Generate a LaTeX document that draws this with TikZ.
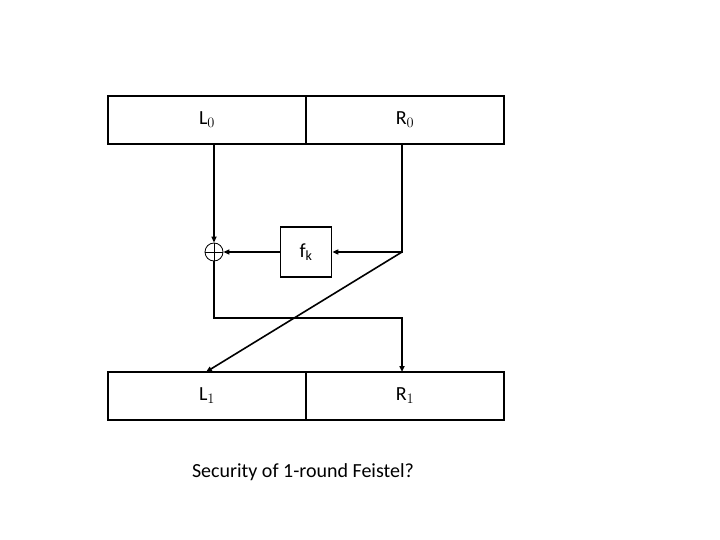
\documentclass[tikz,border=0pt]{standalone}
\usepackage{fontspec}
\setmainfont{Carlito}
\usetikzlibrary{arrows.meta}
\begin{document}
\begin{tikzpicture}[x=1pt,y=-1pt,line width=1.6pt,
  box/.style={draw,minimum width=198pt,minimum height=48pt,inner sep=0,font=\fontsize{20}{24}\selectfont},
  arr/.style={-{Triangle[length=6pt,width=5pt]}}]
\useasboundingbox (0,0) rectangle (720,540);
\node[box] (L0) at (207,120) {L$_0$};
\node[box] (R0) at (405,120) {R$_0$};
\node[box] (L1) at (207,396) {L$_1$};
\node[box] (R1) at (405,396) {R$_1$};
\node[draw,minimum width=51pt,minimum height=50pt,inner sep=0,font=\fontsize{20}{24}\selectfont] (f) at (306,252) {f$_{\mathrm{k}}$};
\node[draw,circle,line width=0.8pt,minimum size=18pt,inner sep=0] (x) at (214,252) {};
\draw[line width=0.8pt] (x.north)--(x.south) (x.west)--(x.east);
\coordinate (a) at (214,144);
\coordinate (b) at (402,144);
\coordinate (c) at (402,252);
\coordinate (d) at (214,318);
\coordinate (e) at (402,318);
\coordinate (g) at (402,372);
\coordinate (h) at (206,372);
\draw[arr] (a)--(x.north);
\draw[arr] (b)--(c)--(f.east);
\draw[arr] (f.west)--(x.east);
\draw[arr] (x.south)--(d)--(e)--(g);
\draw[arr] (c)--(h);
\node[font=\fontsize{20}{24}\selectfont] (t) at (303,472) {Security of 1-round Feistel?};
\end{tikzpicture}
\end{document}
